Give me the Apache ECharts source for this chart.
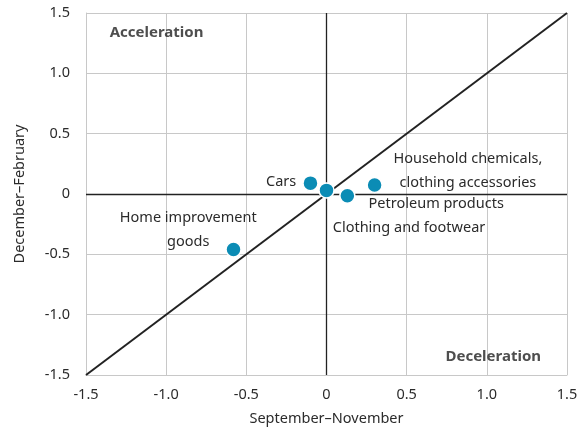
<!DOCTYPE html>
<html>
<head>
<meta charset="utf-8">
<script src="https://cdn.jsdelivr.net/npm/echarts@6/dist/echarts.min.js"></script>
<style>
  html, body { margin: 0; padding: 0; background: #fff; }
  #chart { width: 583px; height: 444px; }
</style>
</head>
<body>
<div id="chart"></div>
<script>
// Data
const goods = ['Cars', 'Clothing and footwear', 'Petroleum products', 'Household chemicals,\nclothing accessories', 'Home improvement\ngoods'];
const sepNov = [-0.1, 0.0, 0.13, 0.3, -0.58];
const decFeb = [0.09, 0.03, -0.015, 0.075, -0.46];

const diagonal = [[-1.5, -1.5], [1.5, 1.5]];
const zones = [['Acceleration', -1.06, 1.335], ['Deceleration', 1.04, -1.35]];

// label placement per point
const labelPos = {
  'Cars': { position: 'left', distance: 6, offset: [0, -1] },
  'Clothing and footwear': { position: 'right', offset: [-7, 37] },
  'Petroleum products': { position: 'right', offset: [8, 8] },
  'Household chemicals,\nclothing accessories': { position: 'right', align: 'center', offset: [80, -14] },
  'Home improvement\ngoods': { position: 'left', align: 'center', offset: [-32, -20] },
};

const font = 'Noto Sans';
const textColor = '#2b2b2b';

var chartDom = document.getElementById('chart');
var myChart = echarts.init(chartDom);
var option;

const axisFmt = (v) => (v === 0 ? '0' : v.toFixed(1));

option = {
  animation: false,
  textStyle: { fontFamily: font },
  grid: { left: 86, right: 16, top: 13, bottom: 69 },
  xAxis: {
    type: 'value',
    min: -1.5,
    max: 1.5,
    interval: 0.5,
    name: 'September–November',
    nameLocation: 'middle',
    nameGap: 36,
    nameTextStyle: { fontSize: 14.5, color: textColor, fontFamily: font },
    axisLine: { onZero: false, lineStyle: { color: '#c8c8c8' } },
    axisTick: { show: false },
    axisLabel: { formatter: axisFmt, fontSize: 14.5, color: textColor, margin: 12 },
    splitLine: { lineStyle: { color: '#c8c8c8' } },
  },
  yAxis: {
    type: 'value',
    min: -1.5,
    max: 1.5,
    interval: 0.5,
    name: 'December–February',
    nameLocation: 'middle',
    nameGap: 59,
    nameTextStyle: { fontSize: 14.5, color: textColor, fontFamily: font },
    axisLine: { show: true, onZero: false, lineStyle: { color: '#c8c8c8' } },
    axisTick: { show: false },
    axisLabel: { formatter: axisFmt, fontSize: 14.5, color: textColor, margin: 16 },
    splitLine: { lineStyle: { color: '#c8c8c8' } },
  },
  series: [
    {
      name: 'diagonal',
      type: 'line',
      data: diagonal,
      symbol: 'none',
      silent: true,
      lineStyle: { color: '#222', width: 2 },
      markLine: {
        silent: true,
        symbol: 'none',
        label: { show: false },
        lineStyle: { color: '#222', width: 1.3, type: 'solid' },
        data: [{ xAxis: 0 }, { yAxis: 0 }],
      },
      z: 2,
    },
    {
      name: 'zones',
      type: 'scatter',
      symbolSize: 0,
      silent: true,
      data: zones.map((z) => ({ name: z[0], value: [z[1], z[2]] })),
      label: {
        show: true,
        position: 'inside',
        formatter: '{b}',
        fontSize: 15,
        fontWeight: 'bold',
        color: '#222',
      },
    },
    {
      name: 'goods',
      type: 'scatter',
      symbolSize: 15,
      z: 5,
      itemStyle: { color: '#0b8cb5', borderColor: '#fff', borderWidth: 1.5, opacity: 1 },
      data: goods.map((g, i) => ({
        name: g,
        value: [sepNov[i], decFeb[i]],
        label: Object.assign({ show: true }, labelPos[g]),
      })),
      label: {
        show: true,
        formatter: '{b}',
        fontSize: 14.5,
        lineHeight: 24,
        color: textColor,
      },
    },
  ],
};

option && myChart.setOption(option);
</script>
</body>
</html>
